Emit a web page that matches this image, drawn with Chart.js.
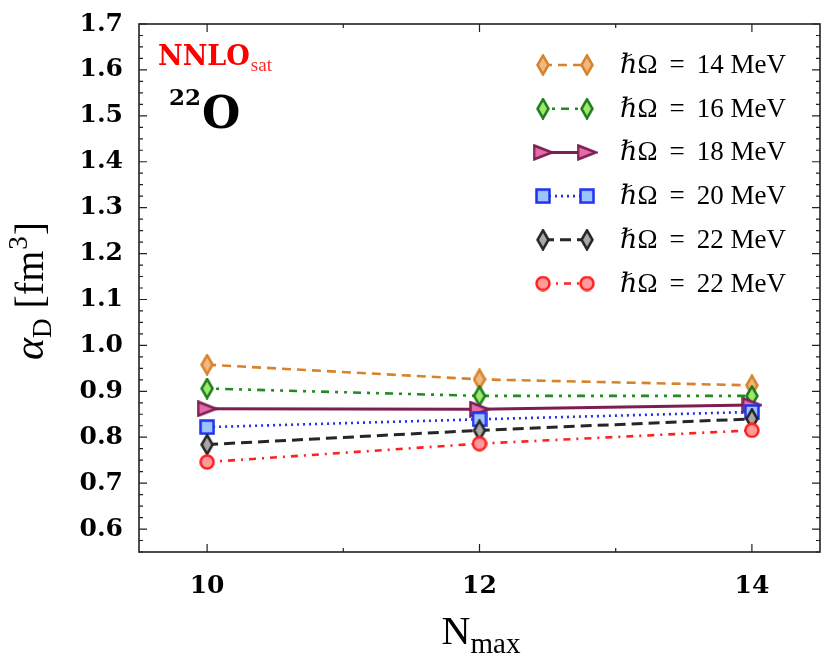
<!DOCTYPE html>
<html>
<head>
<meta charset="utf-8">
<script src="https://cdn.jsdelivr.net/npm/chart.js@4"></script>
<style>
  body { margin: 0; background: #fff; }
  canvas { display: block; }
</style>
</head>
<body>
<canvas id="myChart" width="831" height="672"></canvas>
<script>
// x values (N_max) and tick labels
const nmax = [10, 12, 14]
const xTicks = [10, 12, 14]
const yTicks = [0.6, 0.7, 0.8, 0.9, 1.0, 1.1, 1.2, 1.3, 1.4, 1.5, 1.6, 1.7]

// legend labels
const labels = ['ℏΩ = 14 MeV', 'ℏΩ = 16 MeV', 'ℏΩ = 18 MeV', 'ℏΩ = 20 MeV', 'ℏΩ = 22 MeV', 'ℏΩ = 22 MeV']

// alpha_D values, one per hbar omega
const hw14 = [0.958, 0.926, 0.913]
const hw16 = [0.906, 0.890, 0.890]
const hw18 = [0.862, 0.861, 0.870]
const hw20 = [0.822, 0.839, 0.855]
const hw22 = [0.784, 0.815, 0.840]
const hw22b = [0.746, 0.786, 0.815]

const serif = '"Liberation Serif", "DejaVu Serif", serif'
const serifBold = '"DejaVu Serif", serif'

// marker images
function makeMarker(kind, stroke, fill) {
  let c = document.createElement('canvas')
  let w = 16, h = 16
  if(kind == 'diamond') { w = 14; h = 22 }
  if(kind == 'tri') { w = 21; h = 17 }
  c.width = w; c.height = h
  let ctx = c.getContext('2d')
  ctx.lineWidth = 2.5
  ctx.strokeStyle = stroke
  ctx.fillStyle = fill
  ctx.beginPath()
  if(kind == 'diamond') {
    ctx.moveTo(w/2, 1.5); ctx.lineTo(w-1.5, h/2); ctx.lineTo(w/2, h-1.5); ctx.lineTo(1.5, h/2)
  } else if(kind == 'tri') {
    ctx.moveTo(1.5, 1.5); ctx.lineTo(w-1.5, h/2); ctx.lineTo(1.5, h-1.5)
  } else if(kind == 'square') {
    ctx.rect(1.5, 1.5, w-3, h-3)
  } else {
    ctx.arc(w/2, h/2, w/2-1.5, 0, Math.PI*2)
  }
  ctx.closePath()
  ctx.fill()
  ctx.stroke()
  return c
}

let series = [
  { data: hw14, color: '#d8832c', marker: makeMarker('diamond', '#d8832c', '#f2b882'), dash: [9, 6], width: 2.6 },
  { data: hw16, color: '#228b22', marker: makeMarker('diamond', '#1f7d1f', '#9ee86a'), dash: [3, 6, 3, 6, 8, 6], width: 2.6 },
  { data: hw18, color: '#7b1f52', marker: makeMarker('tri', '#7b1f52', '#e66aa8'), dash: [], width: 3 },
  { data: hw20, color: '#2030f0', marker: makeMarker('square', '#2030f0', '#9cc4ff'), dash: [2, 4], width: 2.6 },
  { data: hw22, color: '#262626', marker: makeMarker('diamond', '#262626', '#a8a8a8'), dash: [11, 6], width: 3 },
  { data: hw22b, color: '#ff2020', marker: makeMarker('circle', '#ff2020', '#ff9a9a'), dash: [7, 6, 2, 6], width: 2.6 }
]

function drawPieces(ctx, pieces, x, y, align) {
  let total = 0
  for(let p of pieces) { ctx.font = p.font; total += ctx.measureText(p.text).width + (p.gap || 0) }
  let cx = align == 'center' ? x - total/2 : x
  for(let p of pieces) {
    ctx.font = p.font
    ctx.fillStyle = p.color || '#000'
    ctx.fillText(p.text, cx, y + (p.dy || 0))
    cx += ctx.measureText(p.text).width + (p.gap || 0)
  }
}

const decor = {
  id: 'decor',
  afterDraw(chart) {
    let ctx = chart.ctx
    let a = chart.chartArea
    let xs = chart.scales.x, ys = chart.scales.y
    ctx.save()

    // frame
    ctx.strokeStyle = '#222'
    ctx.lineWidth = 1.6
    ctx.strokeRect(a.left, a.top, a.right - a.left, a.bottom - a.top)

    // inward ticks
    ctx.lineWidth = 1.2
    ctx.beginPath()
    for(let i = 22; i <= 68; i++) {
      let py = ys.getPixelForValue(i * 0.025)
      let len = i % 4 == 0 ? 8 : 4
      ctx.moveTo(a.left, py); ctx.lineTo(a.left + len, py)
      ctx.moveTo(a.right, py); ctx.lineTo(a.right - len, py)
    }
    for(let v = 10; v <= 14; v++) {
      let px = xs.getPixelForValue(v)
      let len = v % 2 == 0 ? 8 : 4
      ctx.moveTo(px, a.bottom); ctx.lineTo(px, a.bottom - len)
      ctx.moveTo(px, a.top); ctx.lineTo(px, a.top + len)
    }
    ctx.stroke()

    // annotations
    ctx.textBaseline = 'alphabetic'
    drawPieces(ctx, [
      { text: 'NNLO', font: 'bold 27px ' + serifBold, color: '#ff0000', gap: 1 },
      { text: 'sat', font: '19px ' + serif, color: '#ff2a2a', dy: 6 }
    ], 158, 65, 'left')
    drawPieces(ctx, [
      { text: '22', font: 'bold 23px ' + serifBold, dy: -23, gap: 1 },
      { text: 'O', font: 'bold 44px ' + serifBold }
    ], 169, 128, 'left')

    // legend
    series.forEach((s, i) => {
      let y = 65 + i * 43.7
      ctx.strokeStyle = s.color
      ctx.lineWidth = s.width
      ctx.setLineDash(s.dash)
      ctx.beginPath()
      ctx.moveTo(543, y); ctx.lineTo(587, y)
      ctx.stroke()
      ctx.setLineDash([])
      let m = s.marker
      ctx.drawImage(m, 543 - m.width/2, y - m.height/2)
      ctx.drawImage(m, 587 - m.width/2, y - m.height/2)
      let parts = labels[i].split(' = ')
      ctx.textBaseline = 'middle'
      drawPieces(ctx, [
        { text: parts[0][0], font: 'italic 27px ' + serif },
        { text: parts[0].slice(1), font: '27px ' + serif, gap: 12 },
        { text: '=', font: '27px ' + serif, gap: 12 },
        { text: parts[1], font: '27px ' + serif }
      ], 620, y + 1, 'left')
    })

    // axis titles
    ctx.textBaseline = 'alphabetic'
    drawPieces(ctx, [
      { text: 'N', font: '40px ' + serif },
      { text: 'max', font: '29px ' + serif, dy: 9 }
    ], 481, 644, 'center')

    ctx.save()
    ctx.translate(43, 291)
    ctx.rotate(-Math.PI / 2)
    drawPieces(ctx, [
      { text: 'α', font: 'italic 42px ' + serif },
      { text: 'D', font: '27px ' + serif, dy: 8, gap: 10 },
      { text: '[fm', font: '40px ' + serif, gap: 1 },
      { text: '3', font: '27px ' + serif, dy: -16, gap: 1 },
      { text: ']', font: '40px ' + serif }
    ], 0, 0, 'center')
    ctx.restore()

    ctx.restore()
  }
}

let chart = new Chart(document.getElementById('myChart').getContext('2d'), {
  type: 'line',
  data: {
    datasets: series.map((s, i) => ({
      label: labels[i],
      data: nmax.map((n, k) => ({ x: n, y: s.data[k] })),
      borderColor: s.color,
      backgroundColor: s.color,
      borderWidth: s.width,
      borderDash: s.dash,
      pointStyle: s.marker,
      pointRadius: 8,
      fill: false,
      tension: 0,
      order: 6 - i
    }))
  },
  options: {
    responsive: false,
    animation: false,
    devicePixelRatio: 1,
    layout: { padding: { top: 24, right: 11, left: 0, bottom: 0 } },
    plugins: { legend: { display: false }, tooltip: { enabled: false } },
    scales: {
      x: {
        type: 'linear',
        min: 9.5,
        max: 14.5,
        afterBuildTicks: (axis) => { axis.ticks = xTicks.map(v => ({ value: v })) },
        afterFit: (axis) => { axis.height = 120; axis.paddingLeft = 0; axis.paddingRight = 0 },
        grid: { display: false, drawTicks: false },
        border: { display: false },
        ticks: { color: '#000', padding: 19, font: { family: serifBold, size: 25, weight: 'bold' } }
      },
      y: {
        min: 0.55,
        max: 1.7,
        afterBuildTicks: (axis) => { axis.ticks = yTicks.map(v => ({ value: v })) },
        afterFit: (axis) => { axis.width = 139; axis.paddingTop = 0; axis.paddingBottom = 0 },
        grid: { display: false, drawTicks: false },
        border: { display: false },
        ticks: {
          color: '#000', padding: 16,
          font: { family: serifBold, size: 25, weight: 'bold' },
          callback: (v) => v.toFixed(1)
        }
      }
    }
  },
  plugins: [decor]
})
</script>
</body>
</html>
